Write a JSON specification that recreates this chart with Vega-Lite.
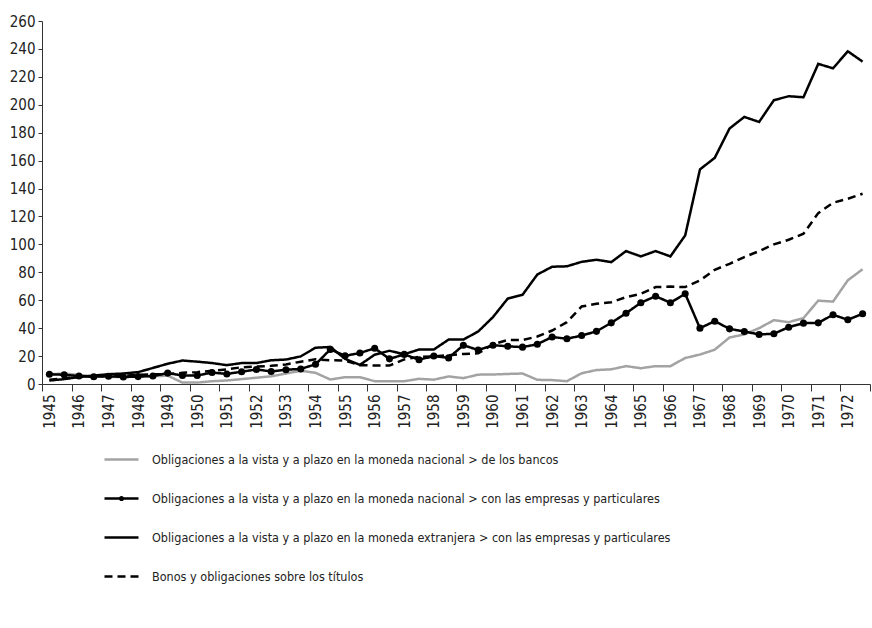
{
  "$schema": "https://vega.github.io/schema/vega-lite/v6.json",
  "width": 828,
  "height": 363,
  "autosize": "none",
  "padding": {"left": 42, "top": 21, "right": 2, "bottom": 244},
  "background": "white",
  "config": {
    "view": {"stroke": null},
    "font": "'DejaVu Sans Condensed', 'Liberation Sans', sans-serif"
  },
  "data": {
    "values": [
      {"t": 1945, "a": 7, "b": 7, "c": 2.5, "d": 3},
      {"t": 1945.5, "a": 7.5, "b": 6.6, "c": 3.5, "d": 4},
      {"t": 1946, "a": 6.5, "b": 5.7, "c": 5, "d": 5},
      {"t": 1946.5, "a": 5.5, "b": 5.2, "c": 6, "d": 5.5},
      {"t": 1947, "a": 5, "b": 5.6, "c": 7, "d": 6},
      {"t": 1947.5, "a": 5, "b": 5, "c": 7.5, "d": 6},
      {"t": 1948, "a": 5.5, "b": 5.3, "c": 8.5, "d": 6.5},
      {"t": 1948.5, "a": 5.5, "b": 5.7, "c": 11.5, "d": 7},
      {"t": 1949, "a": 6, "b": 7.8, "c": 14.5, "d": 7},
      {"t": 1949.5, "a": 1, "b": 6.1, "c": 16.8, "d": 8},
      {"t": 1950, "a": 1, "b": 6.1, "c": 16, "d": 8.5},
      {"t": 1950.5, "a": 2, "b": 8.2, "c": 15, "d": 9.5},
      {"t": 1951, "a": 2.5, "b": 7.2, "c": 13.5, "d": 10.5},
      {"t": 1951.5, "a": 3.5, "b": 8.8, "c": 15, "d": 12},
      {"t": 1952, "a": 4.5, "b": 10.4, "c": 15, "d": 12.5},
      {"t": 1952.5, "a": 5.5, "b": 9, "c": 17, "d": 13},
      {"t": 1953, "a": 7.5, "b": 10.2, "c": 17.5, "d": 14},
      {"t": 1953.5, "a": 9.5, "b": 10.8, "c": 19.8, "d": 16},
      {"t": 1954, "a": 8, "b": 14.1, "c": 26, "d": 17.7},
      {"t": 1954.5, "a": 3.2, "b": 24.8, "c": 26.5, "d": 17},
      {"t": 1955, "a": 4.9, "b": 20.2, "c": 18, "d": 16.8},
      {"t": 1955.5, "a": 4.9, "b": 22.2, "c": 13.7, "d": 13.5},
      {"t": 1956, "a": 2, "b": 25.6, "c": 21, "d": 13.2},
      {"t": 1956.5, "a": 2, "b": 18, "c": 23.8, "d": 13.2},
      {"t": 1957, "a": 2, "b": 21.2, "c": 21.3, "d": 17.6},
      {"t": 1957.5, "a": 3.7, "b": 17.4, "c": 24.7, "d": 19.5},
      {"t": 1958, "a": 3.1, "b": 20, "c": 24.7, "d": 19.8},
      {"t": 1958.5, "a": 5.4, "b": 18.7, "c": 31.8, "d": 20.6},
      {"t": 1959, "a": 4.2, "b": 27.8, "c": 31.8, "d": 21.5},
      {"t": 1959.5, "a": 6.7, "b": 24.3, "c": 37.6, "d": 22},
      {"t": 1960, "a": 6.8, "b": 27.8, "c": 47.9, "d": 28.4},
      {"t": 1960.5, "a": 7.2, "b": 27, "c": 61.2, "d": 31.5},
      {"t": 1961, "a": 7.5, "b": 26.4, "c": 63.9, "d": 31.5},
      {"t": 1961.5, "a": 3, "b": 28.5, "c": 78.4, "d": 34},
      {"t": 1962, "a": 2.8, "b": 33.7, "c": 84, "d": 38.3},
      {"t": 1962.5, "a": 2, "b": 32.4, "c": 84.3, "d": 44.3},
      {"t": 1963, "a": 7.7, "b": 34.7, "c": 87.5, "d": 55.5},
      {"t": 1963.5, "a": 10, "b": 37.7, "c": 89, "d": 57.4},
      {"t": 1964, "a": 10.5, "b": 43.8, "c": 87.3, "d": 58.6},
      {"t": 1964.5, "a": 12.8, "b": 50.7, "c": 95.2, "d": 62.2},
      {"t": 1965, "a": 11.3, "b": 58.2, "c": 91.4, "d": 64.6},
      {"t": 1965.5, "a": 12.8, "b": 62.9, "c": 95.2, "d": 69.4},
      {"t": 1966, "a": 12.8, "b": 58.2, "c": 91.4, "d": 69.8},
      {"t": 1966.5, "a": 18.6, "b": 64.6, "c": 106.4, "d": 69.4},
      {"t": 1967, "a": 21.1, "b": 40, "c": 153.7, "d": 74.2},
      {"t": 1967.5, "a": 24.6, "b": 45, "c": 162, "d": 81.8},
      {"t": 1968, "a": 33.3, "b": 39.5, "c": 183, "d": 86.1},
      {"t": 1968.5, "a": 35.5, "b": 37.6, "c": 191.3, "d": 90.9},
      {"t": 1969, "a": 40, "b": 35.5, "c": 187.7, "d": 95.2},
      {"t": 1969.5, "a": 45.7, "b": 36, "c": 203.3, "d": 100},
      {"t": 1970, "a": 44.3, "b": 40.7, "c": 206.1, "d": 103.3},
      {"t": 1970.5, "a": 47.2, "b": 43.6, "c": 205.4, "d": 107.6},
      {"t": 1971, "a": 59.7, "b": 43.8, "c": 229.3, "d": 122.4},
      {"t": 1971.5, "a": 59, "b": 49.6, "c": 226.1, "d": 129.8},
      {"t": 1972, "a": 74.3, "b": 46, "c": 238.3, "d": 132.7},
      {"t": 1972.5, "a": 82.2, "b": 50.3, "c": 230.9, "d": 136.3}
    ]
  },
  "transform": [
    {"fold": ["a", "b", "c", "d"], "as": ["serie", "valor"]}
  ],
  "encoding": {
    "x": {
      "field": "t",
      "type": "quantitative",
      "scale": {"domain": [1944.75, 1972.75], "nice": false, "zero": false},
      "axis": {
        "title": null,
        "grid": false,
        "values": [1944.75, 1945.75, 1946.75, 1947.75, 1948.75, 1949.75, 1950.75, 1951.75, 1952.75, 1953.75, 1954.75, 1955.75, 1956.75, 1957.75, 1958.75, 1959.75, 1960.75, 1961.75, 1962.75, 1963.75, 1964.75, 1965.75, 1966.75, 1967.75, 1968.75, 1969.75, 1970.75, 1971.75, 1972.75],
        "labelExpr": "datum.value < 1972.5 ? format(datum.value + 0.25, 'd') : ''",
        "labelAngle": 270,
        "labelOffset": 7.4,
        "labelPadding": 3,
        "labelFontSize": 15,
        "labelColor": "#222",
        "tickSize": 7,
        "tickColor": "#333",
        "domainColor": "#333",
        "labelFlush": false,
        "labelOverlap": false
      }
    },
    "y": {
      "field": "valor",
      "type": "quantitative",
      "scale": {"domain": [0, 260], "nice": false},
      "axis": {
        "title": null,
        "grid": false,
        "values": [0, 20, 40, 60, 80, 100, 120, 140, 160, 180, 200, 220, 240, 260],
        "labelFontSize": 15,
        "labelColor": "#222",
        "tickSize": 4,
        "labelPadding": 3,
        "tickColor": "#333",
        "domainColor": "#333",
        "labelFlush": false,
        "labelOverlap": false
      }
    }
  },
  "layer": [
    {
      "mark": {"type": "line", "strokeWidth": 2.5, "strokeJoin": "miter"},
      "encoding": {
        "color": {
          "field": "serie",
          "type": "nominal",
          "scale": {"domain": ["a", "b", "c", "d"], "range": ["#a3a3a3", "#000000", "#000000", "#000000"]},
          "legend": {
            "orient": "none",
            "legendX": 61,
            "legendY": 420,
            "title": null,
            "padding": 0,
            "symbolType": "stroke",
            "symbolSize": 1156,
            "symbolStrokeWidth": 2.5,
            "rowPadding": 14,
            "labelOffset": 12,
            "labelFontSize": 12.5,
            "labelColor": "#222",
            "labelLimit": 0,
            "labelExpr": "datum.value === 'a' ? 'Obligaciones a la vista y a plazo en la moneda nacional > de los bancos' : datum.value === 'b' ? 'Obligaciones a la vista y a plazo en la moneda nacional > con las empresas y particulares' : datum.value === 'c' ? 'Obligaciones a la vista y a plazo en la moneda extranjera > con las empresas y particulares' : 'Bonos y obligaciones sobre los títulos'",
            "encode": {
              "symbols": {
                "update": {
                  "shape": {"signal": "datum.value === 'b' ? 'M-1,0H1M-0.08,0a0.08,0.08 0 1,0 0.16,0a0.08,0.08 0 1,0 -0.16,0' : 'M-1,0H1'"},
                  "strokeDash": {"signal": "datum.value === 'd' ? [6, 4] : [1, 0]"}
                }
              }
            }
          }
        },
        "strokeDash": {
          "field": "serie",
          "type": "nominal",
          "scale": {"domain": ["a", "b", "c", "d"], "range": [[1, 0], [1, 0], [1, 0], [8, 5]]},
          "legend": null
        }
      }
    },
    {
      "transform": [{"filter": "datum.serie === 'b'"}],
      "mark": {"type": "point", "filled": true, "color": "#000000", "size": 50, "opacity": 1},
      "encoding": {}
    }
  ]
}
